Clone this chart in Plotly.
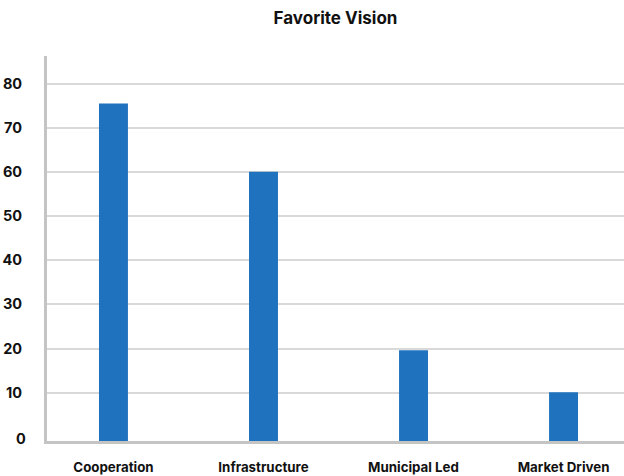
import plotly.graph_objects as go

categories = ["Cooperation", "Infrastructure", "Municipal Led", "Market Driven"]
values = [75.5, 60, 19.6, 10.1]
y_ticks = [0, 10, 20, 30, 40, 50, 60, 70, 80]

# the category axis sits a little below the zero gridline in the reference
Y_FLOOR = -0.93
Y_TOP = 86.23

FONT = "Inter"
TICK_FONT = dict(family=FONT, size=14.5, color="#111111")

fig = go.Figure(
    go.Bar(
        x=list(range(len(categories))),
        y=[v - Y_FLOOR for v in values],
        base=Y_FLOOR,
        customdata=values,
        hovertemplate="%{customdata}<extra></extra>",
        marker=dict(color="#1f73be", line=dict(width=0)),
        width=0.193,
    )
)

fig.update_layout(
    width=624,
    height=476,
    margin=dict(l=47, r=0, t=56, b=35),
    paper_bgcolor="white",
    plot_bgcolor="white",
    showlegend=False,
    title=dict(
        text="<b>Favorite Vision</b>",
        x=(47 + 624) / 2 / 624,
        xanchor="center",
        y=1 - 18 / 476,
        yanchor="middle",
        font=dict(family=FONT, size=17, color="#111111"),
    ),
    font=dict(family=FONT, color="#111111"),
)

fig.update_xaxes(
    tickmode="array",
    tickvals=list(range(len(categories))),
    ticktext=["<b>" + c + "</b>" for c in categories],
    range=[-0.443, 3.403],
    showgrid=False,
    zeroline=False,
    showline=True,
    linecolor="#c4c4c4",
    linewidth=3,
    ticks="",
    ticklabelstandoff=12,
    tickfont=dict(family=FONT, size=13.3, color="#111111"),
)

# gridlines for all ticks except 0 (the axis line plays that role)
grid_ticks = [t for t in y_ticks if t != 0]
fig.update_yaxes(
    tickmode="array",
    tickvals=grid_ticks,
    ticktext=["<b>%d</b>" % v for v in grid_ticks],
    range=[Y_FLOOR, Y_TOP],
    showgrid=True,
    gridcolor="#d9d9d9",
    gridwidth=2,
    zeroline=False,
    showline=True,
    linecolor="#c4c4c4",
    linewidth=3,
    ticks="",
    ticklabelstandoff=19,
    tickfont=TICK_FONT,
)

for t in y_ticks:
    if t == 0:
        fig.add_annotation(
            x=0, xref="paper", xanchor="right", xshift=-19,
            y=t, yref="y", yanchor="middle", yshift=-2,
            text="<b>%d</b>" % t, showarrow=False, font=TICK_FONT,
        )

fig.write_html("out.html")
